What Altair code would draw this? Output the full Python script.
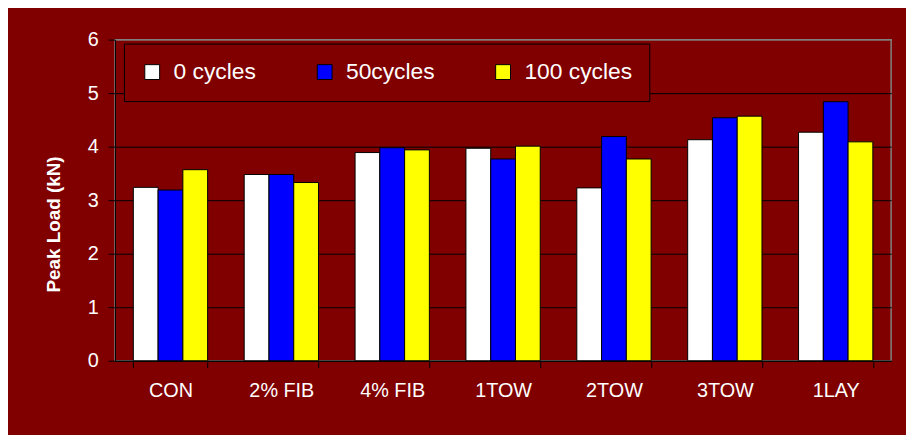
import altair as alt
import pandas as pd

categories = ["CON", "2% FIB", "4% FIB", "1TOW", "2TOW", "3TOW", "1LAY"]
series = ["0 cycles", "50cycles", "100 cycles"]
cycles_0 = [3.24, 3.48, 3.89, 3.97, 3.23, 4.13, 4.27]
cycles_50 = [3.19, 3.48, 3.98, 3.77, 4.19, 4.54, 4.84]
cycles_100 = [3.57, 3.33, 3.94, 4.01, 3.77, 4.57, 4.09]
colors = ["#ffffff", "#0000ff", "#ffff00"]
y_ticks = [0, 1, 2, 3, 4, 5, 6]

rows = []
for vals, s in zip([cycles_0, cycles_50, cycles_100], series):
    for c, v in zip(categories, vals):
        rows.append({"cat": c, "series": s, "load": v})
df = pd.DataFrame(rows)

FONT = "Liberation Sans"
TXT = "#ffffff"

chart = alt.Chart(df).mark_bar(stroke="black", strokeWidth=1).encode(
    x=alt.X(
        "cat:N",
        sort=categories,
        scale=alt.Scale(paddingInner=0.33, paddingOuter=0.165),
        axis=alt.Axis(
            title=None, labelAngle=0, tickBand="extent", ticks=True, tickSize=7,
            tickColor="black", domainColor="black", domainWidth=1, grid=False,
            labelPadding=13, labelFontSize=20, labelColor=TXT, labelFont=FONT,
        ),
    ),
    xOffset=alt.XOffset("series:N", sort=series, scale=alt.Scale(paddingInner=0, paddingOuter=0)),
    y=alt.Y(
        "load:Q",
        scale=alt.Scale(domain=[0, 6]),
        axis=alt.Axis(
            title="Peak Load (kN)", values=y_ticks, grid=True,
            gridColor={"condition": {"test": "datum.value >= 6", "value": "#808080"}, "value": "black"},
            gridWidth=1, tickSize=7, tickColor="black", domainColor="black",
            labelPadding=10, labelFontSize=20, labelColor=TXT, labelFont=FONT,
            titleFont=FONT, titleFontSize=19, titleFontWeight="bold", titleColor=TXT,
            titleX=-62, titleY=186, titleAlign="center", titleBaseline="middle", titleAngle=270,
        ),
    ),
    color=alt.Color(
        "series:N",
        sort=series,
        scale=alt.Scale(domain=series, range=colors),
        legend=alt.Legend(
            title=None, orient="none", legendX=9, legendY=4, direction="horizontal",
            strokeColor="black", fillColor="#800000", padding=17,
            symbolType="square", symbolSize=225, symbolStrokeColor="black",
            symbolStrokeWidth=1, symbolOpacity=1,
            labelFontSize=23, labelColor=TXT, labelFont=FONT, labelOffset=10,
            columnPadding=57,
        ),
    ),
).properties(
    width=783,
    height=324,
    autosize=alt.AutoSizeParams(type="none"),
    padding={"left": 108, "top": 30, "right": 15, "bottom": 73},
).configure(
    background="#800000",
).configure_view(
    stroke="#808080", strokeWidth=1.5,
)

chart.save("out.html", embed_options={"renderer": "svg", "actions": False})
